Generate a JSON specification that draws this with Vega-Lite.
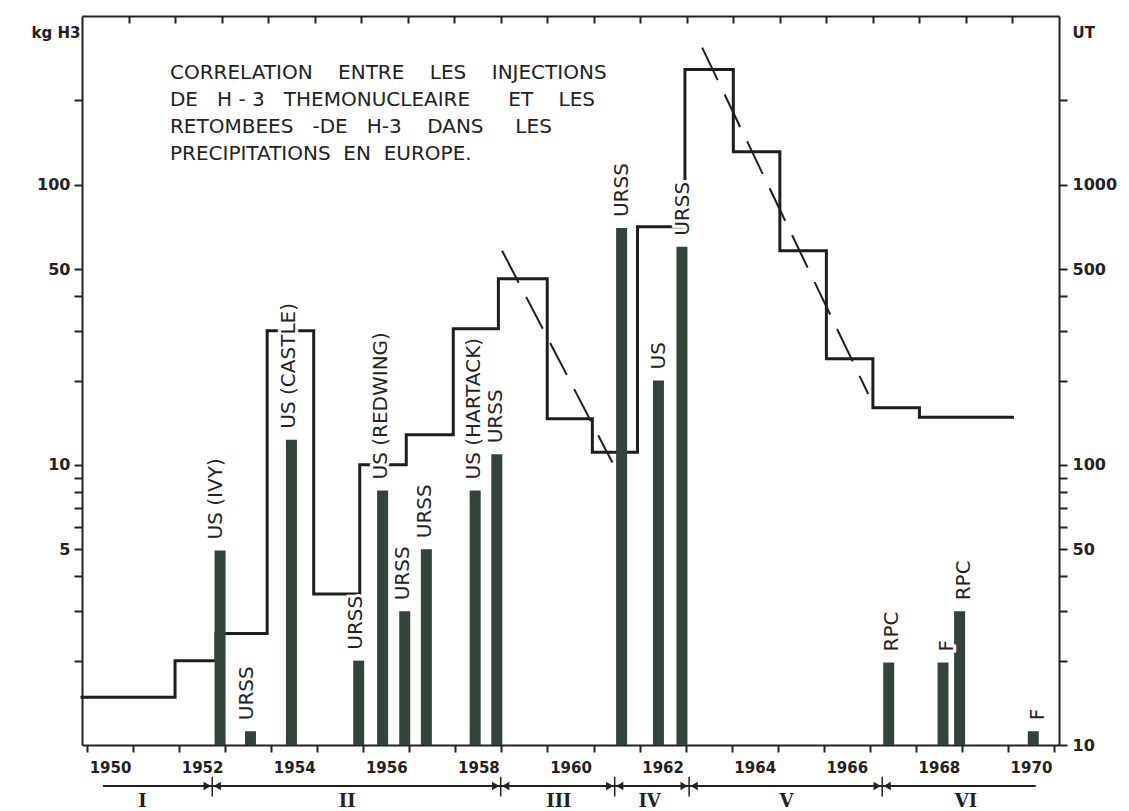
{
  "$schema": "https://vega.github.io/schema/vega-lite/v6.json",
  "width": 977,
  "height": 729,
  "padding": {"left": 31, "top": 15, "right": 5, "bottom": 0},
  "background": "white",
  "config": {
    "font": "DejaVu Sans",
    "view": {"stroke": null},
    "axis": {"domainColor": "#222", "domainWidth": 2, "tickColor": "#222", "tickWidth": 2, "labelColor": "#222", "titleColor": "#222", "grid": false}
  },
  "datasets": {
    "bars": [
      {"year": 1952.89, "kg": 4.95, "label": "US (IVY)"},
      {"year": 1953.55, "kg": 1.12, "label": "URSS"},
      {"year": 1954.44, "kg": 12.3, "label": "US (CASTLE)"},
      {"year": 1955.9, "kg": 2.0, "label": "URSS"},
      {"year": 1956.42, "kg": 8.1, "label": "US (REDWING)"},
      {"year": 1956.9, "kg": 3.0, "label": "URSS"},
      {"year": 1957.37, "kg": 5.0, "label": "URSS"},
      {"year": 1958.43, "kg": 8.1, "label": "US (HARTACK)"},
      {"year": 1958.9, "kg": 10.9, "label": "URSS"},
      {"year": 1961.61, "kg": 70, "label": "URSS"},
      {"year": 1962.41, "kg": 20, "label": "US"},
      {"year": 1962.92, "kg": 60, "label": "URSS"},
      {"year": 1967.41, "kg": 1.97, "label": "RPC"},
      {"year": 1968.59, "kg": 1.97, "label": "F"},
      {"year": 1968.95, "kg": 3.0, "label": "RPC"},
      {"year": 1970.55, "kg": 1.12, "label": "F"}
    ],
    "fallout": [
      {"year": 1950.0, "ut": 14.8},
      {"year": 1952.0, "ut": 20},
      {"year": 1952.88, "ut": 25},
      {"year": 1953.98, "ut": 301},
      {"year": 1954.98, "ut": 34.6},
      {"year": 1955.97, "ut": 100},
      {"year": 1956.97, "ut": 128},
      {"year": 1957.98, "ut": 306},
      {"year": 1958.95, "ut": 462},
      {"year": 1960.0, "ut": 146},
      {"year": 1960.97, "ut": 111},
      {"year": 1961.94, "ut": 708},
      {"year": 1962.96, "ut": 2576},
      {"year": 1964.0, "ut": 1312},
      {"year": 1965.0, "ut": 581},
      {"year": 1966.0, "ut": 239},
      {"year": 1967.0, "ut": 160},
      {"year": 1968.0, "ut": 148},
      {"year": 1970.0, "ut": 148}
    ],
    "trends": [
      {"trend": "a", "year": 1959.03, "ut": 581},
      {"trend": "a", "year": 1961.4, "ut": 102},
      {"trend": "b", "year": 1963.33, "ut": 3084},
      {"trend": "b", "year": 1966.9, "ut": 179}
    ],
    "phases": [
      {"phase": "I", "start": 1950.45, "end": 1952.8, "mid": 1951.3, "headL": false, "headR": true},
      {"phase": "II", "start": 1952.8, "end": 1959.0, "mid": 1955.7, "headL": true, "headR": true},
      {"phase": "III", "start": 1959.0, "end": 1961.45, "mid": 1960.25, "headL": true, "headR": true},
      {"phase": "IV", "start": 1961.45, "end": 1963.05, "mid": 1962.2, "headL": true, "headR": true},
      {"phase": "V", "start": 1963.05, "end": 1967.2, "mid": 1965.14, "headL": true, "headR": true},
      {"phase": "VI", "start": 1967.2, "end": 1970.5, "mid": 1969.0, "headL": true, "headR": false}
    ],
    "bounds": [
      {"year": 1952.8}, {"year": 1959.0}, {"year": 1961.45}, {"year": 1963.05}, {"year": 1967.2}
    ],
    "title": [
      {"lines": [
        "CORRELATION\u00a0 \u00a0 ENTRE\u00a0 \u00a0 LES\u00a0 \u00a0 INJECTIONS",
        "DE\u00a0 \u00a0H - 3\u00a0 \u00a0THEMONUCLEAIRE\u00a0 \u00a0 \u00a0 ET\u00a0 \u00a0 LES",
        "RETOMBEES\u00a0 \u00a0-DE\u00a0 \u00a0H-3\u00a0 \u00a0 DANS\u00a0 \u00a0 \u00a0LES",
        "PRECIPITATIONS\u00a0 EN\u00a0 EUROPE."
      ]}
    ]
  },
  "resolve": {"scale": {"x": "independent", "y": "independent"}, "axis": {"x": "independent", "y": "independent"}},
  "layer": [
    {
      "data": {"name": "fallout"},
      "mark": {"type": "line", "interpolate": "step-after", "color": "#1e1e1e", "strokeWidth": 3, "strokeJoin": "miter", "strokeCap": "square"},
      "encoding": {
        "x": {"field": "year", "type": "quantitative",
          "scale": {"domain": [1950, 1971], "nice": false, "zero": false},
          "axis": {"orient": "top", "values": [1951,1952,1953,1954,1955,1956,1957,1958,1959,1960,1961,1962,1963,1964,1965,1966,1967,1968,1969,1970], "labels": false, "tickSize": -7, "title": null}},
        "y": {"field": "ut", "type": "quantitative",
          "scale": {"type": "log", "domain": [10, 4000], "nice": false},
          "axis": {"orient": "right", "values": [10,20,30,40,50,60,70,80,90,100,200,300,400,500,1000,2000],
            "labelExpr": "indexof([10,50,100,500,1000], datum.value) >= 0 ? datum.value : ''",
            "labelOverlap": false, "labelFontSize": 16, "labelFontWeight": "bold", "tickSize": 8, "labelPadding": 5,
            "title": "UT", "titleAngle": 0, "titleAlign": "left", "titleBaseline": "middle", "titleX": 13, "titleY": 16, "titleFontSize": 15, "titleFontWeight": "bold"}}
      }
    },
    {
      "data": {"name": "trends"},
      "mark": {"type": "line", "color": "#1e1e1e", "strokeWidth": 2, "strokeDash": [36, 16]},
      "encoding": {
        "x": {"field": "year", "type": "quantitative", "scale": {"domain": [1950, 1971], "nice": false, "zero": false}, "axis": null},
        "y": {"field": "ut", "type": "quantitative", "scale": {"type": "log", "domain": [10, 4000], "nice": false}, "axis": null},
        "detail": {"field": "trend"}
      }
    },
    {
      "data": {"name": "bars"},
      "mark": {"type": "bar", "width": 11, "color": "#33443a"},
      "encoding": {
        "x": {"field": "year", "type": "quantitative",
          "scale": {"domain": [1950, 1971], "nice": false, "zero": false},
          "axis": {"orient": "bottom", "title": null,
            "values": [1950,1950.5,1951,1951.5,1952,1952.5,1953,1953.5,1954,1954.5,1955,1955.5,1956,1956.5,1957,1957.5,1958,1958.5,1959,1959.5,1960,1960.5,1961,1961.5,1962,1962.5,1963,1963.5,1964,1964.5,1965,1965.5,1966,1966.5,1967,1967.5,1968,1968.5,1969,1969.5,1970,1970.5,1971],
            "labelExpr": "(datum.value % 1 == 0.5 && floor(datum.value) % 2 == 0) ? '' + floor(datum.value) : ''",
            "tickOpacity": {"condition": {"test": "datum.value % 1 != 0", "value": 0}, "value": 1},
            "tickSize": 7, "labelPadding": 8, "labelFontSize": 15, "labelFontWeight": "bold", "labelOverlap": false, "labelFlush": false}},
        "y": {"field": "kg", "type": "quantitative",
          "scale": {"type": "log", "domain": [1, 400], "nice": false},
          "axis": {"orient": "left", "values": [2,3,4,5,6,7,8,9,10,20,30,40,50,100,200],
            "labelExpr": "indexof([5,10,50,100], datum.value) >= 0 ? datum.value : ''",
            "labelOverlap": false, "labelFontSize": 16, "labelFontWeight": "bold", "tickSize": 8, "labelPadding": 4,
            "title": "kg H3", "titleAngle": 0, "titleAlign": "right", "titleBaseline": "middle", "titleX": -2, "titleY": 16, "titleFontSize": 15, "titleFontWeight": "bold"}},
        "y2": {"datum": 1}
      }
    },
    {
      "data": {"name": "bars"},
      "mark": {"type": "text", "angle": 270, "align": "left", "baseline": "middle", "dx": 11, "fontSize": 20, "fill": "white", "stroke": "white", "strokeWidth": 6},
      "encoding": {
        "x": {"field": "year", "type": "quantitative", "scale": {"domain": [1950, 1971], "nice": false, "zero": false}, "axis": null},
        "y": {"field": "kg", "type": "quantitative", "scale": {"type": "log", "domain": [1, 400], "nice": false}, "axis": null},
        "text": {"field": "label"}
      }
    },
    {
      "data": {"name": "bars"},
      "mark": {"type": "text", "angle": 270, "align": "left", "baseline": "middle", "dx": 11, "fontSize": 20, "color": "#222"},
      "encoding": {
        "x": {"field": "year", "type": "quantitative", "scale": {"domain": [1950, 1971], "nice": false, "zero": false}, "axis": null},
        "y": {"field": "kg", "type": "quantitative", "scale": {"type": "log", "domain": [1, 400], "nice": false}, "axis": null},
        "text": {"field": "label"}
      }
    },
    {
      "data": {"name": "title"},
      "mark": {"type": "text", "align": "left", "baseline": "top", "fontSize": 20, "lineHeight": 27, "color": "#222"},
      "encoding": {
        "x": {"datum": 1951.89, "type": "quantitative", "scale": {"domain": [1950, 1971], "nice": false, "zero": false}, "axis": null},
        "y": {"datum": 272, "type": "quantitative", "scale": {"type": "log", "domain": [1, 400], "nice": false}, "axis": null},
        "text": {"field": "lines"}
      }
    },
    {
      "data": {"name": "phases"},
      "mark": {"type": "rule", "color": "#222", "strokeWidth": 2},
      "encoding": {
        "x": {"field": "start", "type": "quantitative", "scale": {"domain": [1950, 1971], "nice": false, "zero": false}, "axis": null},
        "x2": {"field": "end"},
        "y": {"datum": 0.714, "type": "quantitative", "scale": {"type": "log", "domain": [1, 400], "nice": false}, "axis": null}
      }
    },
    {
      "data": {"name": "phases"},
      "transform": [{"filter": "datum.headR"}],
      "mark": {"type": "point", "shape": "triangle-right", "filled": true, "size": 70, "color": "#222", "opacity": 1, "xOffset": -5},
      "encoding": {
        "x": {"field": "end", "type": "quantitative", "scale": {"domain": [1950, 1971], "nice": false, "zero": false}, "axis": null},
        "y": {"datum": 0.714, "type": "quantitative", "scale": {"type": "log", "domain": [1, 400], "nice": false}, "axis": null}
      }
    },
    {
      "data": {"name": "phases"},
      "transform": [{"filter": "datum.headL"}],
      "mark": {"type": "point", "shape": "triangle-left", "filled": true, "size": 70, "color": "#222", "opacity": 1, "xOffset": 5},
      "encoding": {
        "x": {"field": "start", "type": "quantitative", "scale": {"domain": [1950, 1971], "nice": false, "zero": false}, "axis": null},
        "y": {"datum": 0.714, "type": "quantitative", "scale": {"type": "log", "domain": [1, 400], "nice": false}, "axis": null}
      }
    },
    {
      "data": {"name": "bounds"},
      "mark": {"type": "rule", "color": "#222", "strokeWidth": 1.5},
      "encoding": {
        "x": {"field": "year", "type": "quantitative", "scale": {"domain": [1950, 1971], "nice": false, "zero": false}, "axis": null},
        "y": {"datum": 0.77, "type": "quantitative", "scale": {"type": "log", "domain": [1, 400], "nice": false}, "axis": null},
        "y2": {"datum": 0.655}
      }
    },
    {
      "data": {"name": "phases"},
      "mark": {"type": "text", "font": "DejaVu Serif", "fontWeight": "bold", "fontSize": 18, "baseline": "middle", "align": "center", "color": "#222"},
      "encoding": {
        "x": {"field": "mid", "type": "quantitative", "scale": {"domain": [1950, 1971], "nice": false, "zero": false}, "axis": null},
        "y": {"datum": 0.628, "type": "quantitative", "scale": {"type": "log", "domain": [1, 400], "nice": false}, "axis": null},
        "text": {"field": "phase"}
      }
    }
  ]
}
